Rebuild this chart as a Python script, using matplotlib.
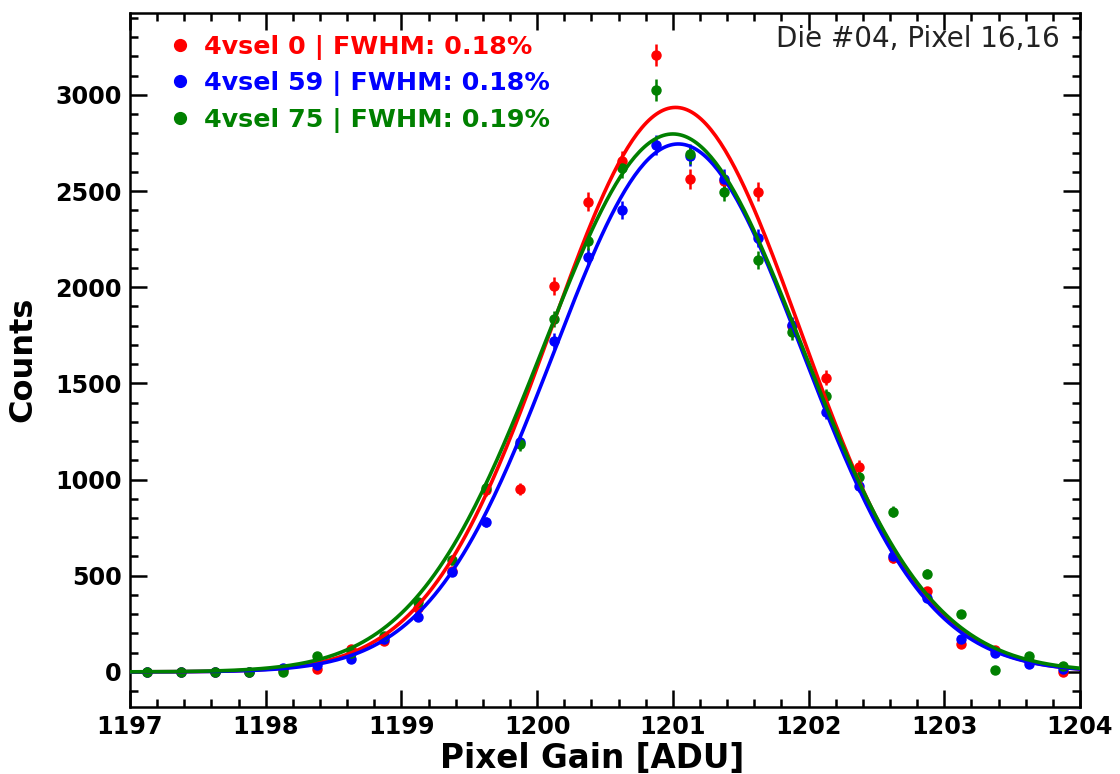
import numpy as np
import matplotlib
matplotlib.use("Agg")
import matplotlib.pyplot as plt
from matplotlib.lines import Line2D
from matplotlib.ticker import MultipleLocator

# ---- data ----
bin_centers = [1197.125, 1197.375, 1197.625, 1197.875, 1198.125, 1198.375, 1198.625,
               1198.875, 1199.125, 1199.375, 1199.625, 1199.875, 1200.125, 1200.375,
               1200.625, 1200.875, 1201.125, 1201.375, 1201.625, 1201.875, 1202.125,
               1202.375, 1202.625, 1202.875, 1203.125, 1203.375, 1203.625, 1203.875]

counts_red = [0, 0, 0, 0, 8, 15, 120, 161, 333, 525, 945, 950, 2007, 2445, 2655, 3208,
              2563, 2550, 2497, 1800, 1529, 1067, 593, 421, 146, 114, 54, 0]
counts_blue = [0, 0, 0, 0, 22, 36, 68, 172, 286, 520, 780, 1195, 1722, 2158, 2402, 2740,
               2680, 2563, 2257, 1804, 1352, 967, 603, 385, 172, 99, 42, 15]
counts_green = [0, 0, 0, 0, 0, 83, 98, 187, 364, 582, 955, 1185, 1835, 2243, 2620, 3026,
                2693, 2497, 2142, 1768, 1435, 1015, 832, 510, 302, 10, 83, 28]

# Gaussian fit parameters (amplitude, mean, sigma)
fit_red = (2935, 1201.02, 0.918)
fit_blue = (2745, 1201.04, 0.915)
fit_green = (2797, 1201.00, 0.95)

labels = ["4vsel 0 | FWHM: 0.18%", "4vsel 59 | FWHM: 0.18%", "4vsel 75 | FWHM: 0.19%"]
colors = ["red", "blue", "green"]
annotation = "Die #04, Pixel 16,16"

x_ticks = [1197, 1198, 1199, 1200, 1201, 1202, 1203, 1204]
y_ticks = [0, 500, 1000, 1500, 2000, 2500, 3000]

# ---- plot ----
fig = plt.figure(figsize=(11.2, 7.74), dpi=100)
ax = fig.add_axes([130 / 1120, 1 - 706.5 / 774, 950 / 1120, 693.5 / 774])

xs = np.linspace(1197, 1204, 400)


def gauss(x, a, mu, s):
    return a * np.exp(-(x - mu) ** 2 / (2 * s ** 2))


series = [(counts_red, fit_red), (counts_blue, fit_blue), (counts_green, fit_green)]
handles = []
for (cts, fit), col, lab in zip(series, colors, labels):
    y = np.array(cts, dtype=float)
    ax.errorbar(bin_centers, y, yerr=np.sqrt(np.clip(y, 0, None)), fmt="o", color=col,
                markersize=6.5, elinewidth=1.8, capsize=0, zorder=3)
    ax.plot(xs, gauss(xs, *fit), color=col, lw=2.6, zorder=4)
    handles.append(Line2D([], [], marker="o", linestyle="none", color=col, markersize=8.5))

leg = ax.legend(handles, labels, loc="upper left", frameon=False,
                prop={"weight": "bold", "size": 18.3}, handletextpad=0.15,
                handlelength=1.6, borderaxespad=0.0, labelspacing=0.45,
                bbox_to_anchor=(0.02, 0.983))
for t, col in zip(leg.get_texts(), colors):
    t.set_color(col)

ax.text(0.979, 0.982, annotation, transform=ax.transAxes, ha="right", va="top",
        fontsize=20, color="#222222")

ax.set_xlim(1197, 1204)
ax.set_ylim(-180, 3426)
ax.set_xticks(x_ticks)
ax.set_yticks(y_ticks)
ax.xaxis.set_minor_locator(MultipleLocator(0.2))
ax.yaxis.set_minor_locator(MultipleLocator(100))
ax.tick_params(which="both", direction="in", top=True, right=True, width=1.8)
ax.tick_params(which="major", length=12, labelsize=17.2, pad=6)
ax.tick_params(which="minor", length=6)
for lbl in ax.get_xticklabels() + ax.get_yticklabels():
    lbl.set_fontweight("bold")
for sp in ax.spines.values():
    sp.set_linewidth(1.8)

ax.set_xlabel("Pixel Gain [ADU]", fontsize=23.5, fontweight="bold")
ax.xaxis.set_label_coords(0.486, -0.0505)
ax.set_ylabel("Counts", fontsize=23, fontweight="bold", labelpad=12)

fig.savefig("out.png", dpi=100)
